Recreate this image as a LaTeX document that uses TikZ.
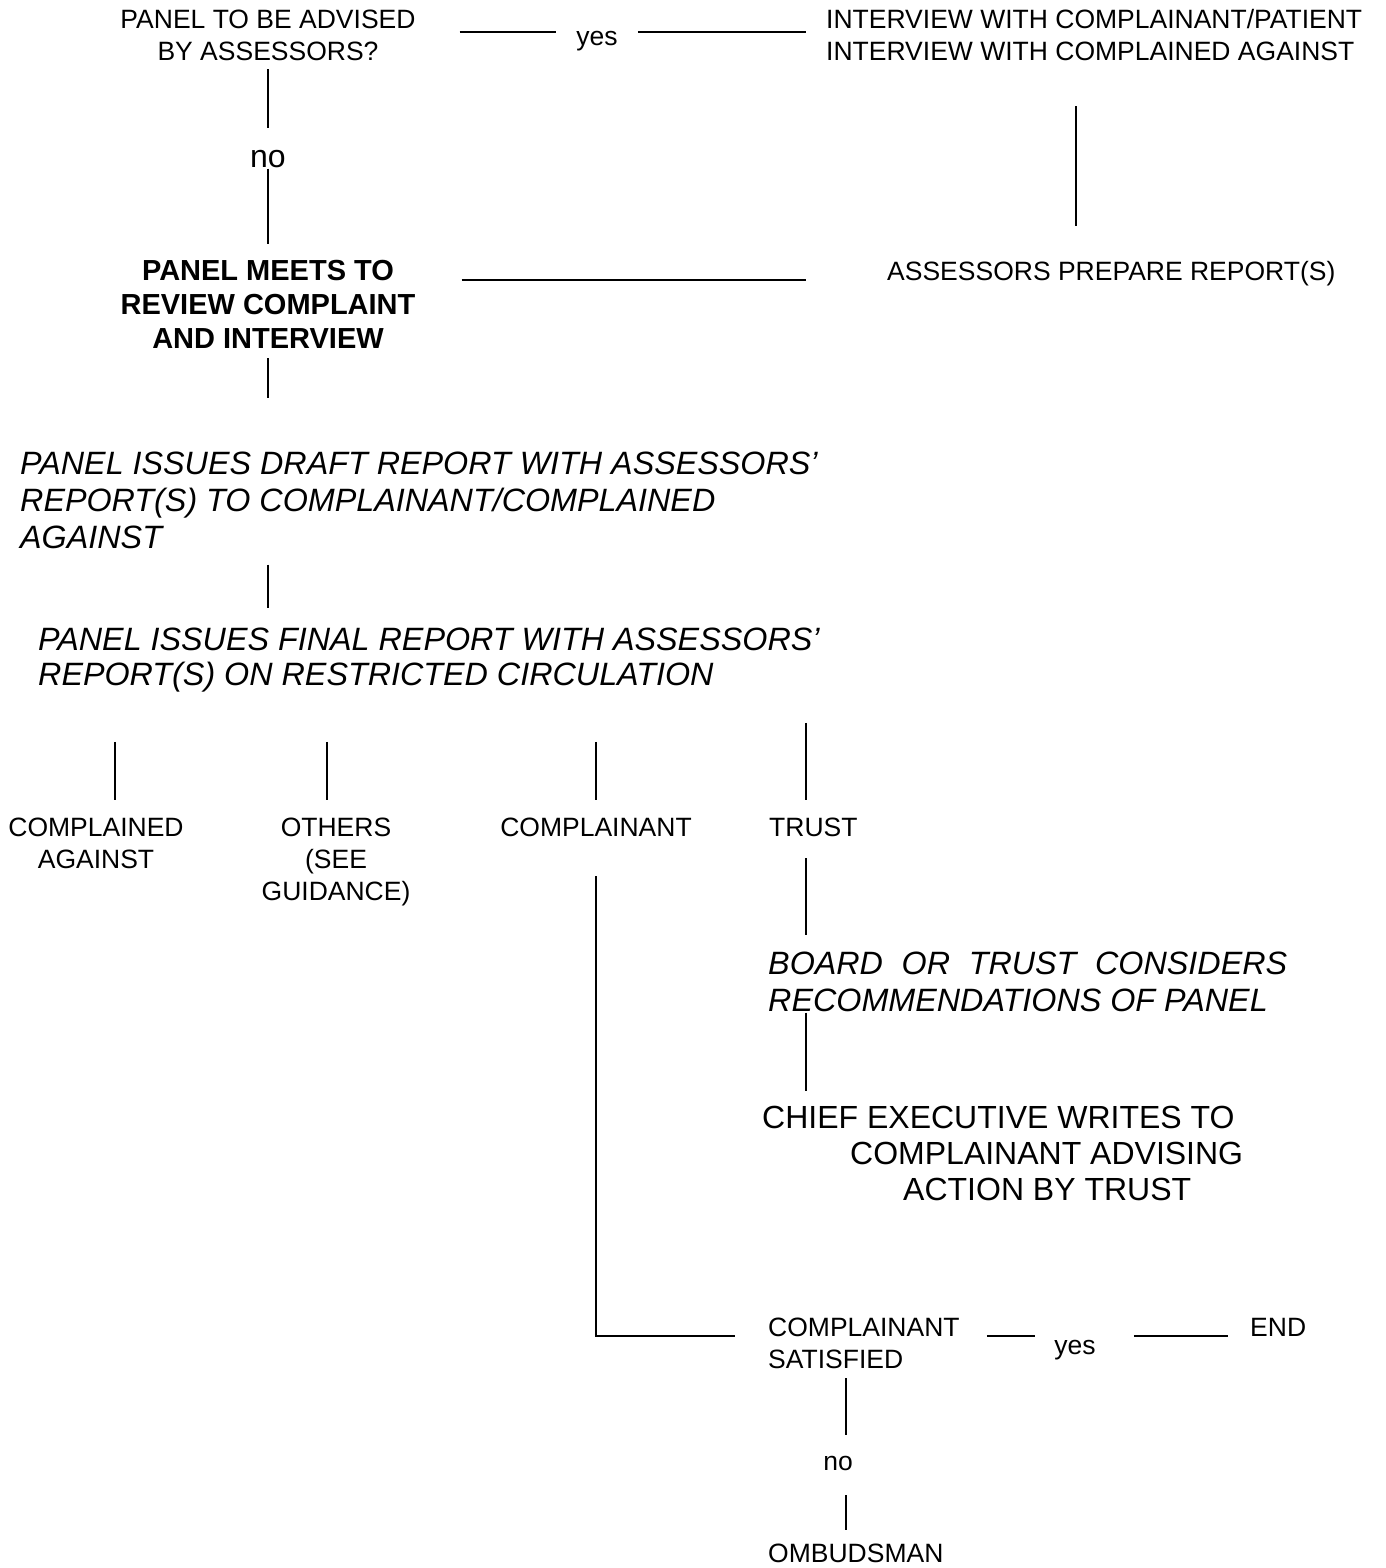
\documentclass[tikz,border=0pt]{standalone}
\usepackage{fontspec}
\setmainfont{Liberation Sans}

\tikzset{
    txt/.style={inner sep=0pt, font=\fontsize{26.5}{32}\selectfont},
    big/.style={inner sep=0pt, font=\fontsize{32}{36}\selectfont},
    ital/.style={inner sep=0pt, font=\fontsize{32.3}{37}\selectfont\itshape},
    head/.style={inner sep=0pt, font=\fontsize{29}{34}\selectfont\bfseries},
    link/.style={line width=1.5pt},
}

\begin{document}
\begin{tikzpicture}[x=1pt, y=-1pt]
    \useasboundingbox (0, 0) rectangle (1386, 1568);

    \node[txt, align=center, anchor=base](Q) at (268, 61) {PANEL TO BE ADVISED\\BY ASSESSORS?};
    \node[txt, anchor=base](Y1) at (597, 46) {yes};
    \node[txt, align=left, anchor=base west](IV) at (826, 61) {INTERVIEW WITH COMPLAINANT/PATIENT\\INTERVIEW WITH COMPLAINED AGAINST};
    \node[big, anchor=base](N1) at (268, 167) {no};
    \node[head, align=center, anchor=base](M) at (268, 348) {PANEL MEETS TO\\REVIEW COMPLAINT\\AND INTERVIEW};
    \node[txt, anchor=base west](AR) at (887, 280) {ASSESSORS PREPARE REPORT(S)};

    \node[ital, align=left, anchor=base west](D) at (20, 548) {PANEL ISSUES DRAFT REPORT WITH ASSESSORS'\\REPORT(S) TO COMPLAINANT/COMPLAINED\\AGAINST};
    \node[ital, align=left, anchor=base west, font=\fontsize{32.3}{35}\selectfont\itshape](F) at (38, 685) {PANEL ISSUES FINAL REPORT WITH ASSESSORS'\\REPORT(S) ON RESTRICTED CIRCULATION};

    \node[txt, align=center, anchor=base](CA) at (96, 868) {COMPLAINED\\AGAINST};
    \node[txt, align=center, anchor=base](O) at (336, 900) {OTHERS\\(SEE\\GUIDANCE)};
    \node[txt, anchor=base](CL) at (596, 836) {COMPLAINANT};
    \node[txt, anchor=base west](T) at (769, 836) {TRUST};

    \node[ital, align=left, anchor=base west](B) at (768, 1011) {\makebox[519pt][s]{BOARD OR TRUST CONSIDERS}\\RECOMMENDATIONS OF PANEL};
    \node[big, align=left, anchor=base west](CE) at (762, 1200) {CHIEF EXECUTIVE WRITES TO\\\hspace*{88pt}COMPLAINANT ADVISING\\\hspace*{141pt}ACTION BY TRUST};

    \node[txt, align=left, anchor=base west](S) at (768, 1368) {COMPLAINANT\\SATISFIED};
    \node[txt, anchor=base](Y2) at (1075, 1354) {yes};
    \node[txt, anchor=base west](E) at (1250, 1336) {END};
    \node[txt, anchor=base](N2) at (838, 1470) {no};
    \node[txt, anchor=base west](OM) at (768, 1562) {OMBUDSMAN};

    \coordinate(b1) at (115, 0);
    \coordinate(b2) at (327, 0);
    \coordinate(b3) at (806, 0);
    \coordinate(c1) at (1076, 0);
    \coordinate(c2) at (846, 0);

    % top part
    \draw[link, shorten <=44pt, shorten >=20pt] ([yshift=4pt]Q.east) -- ([yshift=4pt]Q.east -| Y1.west);
    \draw[link, shorten <=20pt, shorten >=20pt] ([yshift=4pt]Q.east -| Y1.east) -- ([yshift=4pt]Q.east -| IV.west);
    \draw[link, shorten <=8pt, shorten >=22pt] (Q.south) -- (N1.north);
    \draw[link, shorten <=1pt, shorten >=16pt] (N1.south) -- (M.north);
    \draw[link, shorten <=46pt, shorten >=81pt] (M.east |- AR.base west) -- (AR.base west);
    \draw[link, shorten <=45pt, shorten >=35pt] (c1 |- IV.south) -- (c1 |- AR.north);

    % reports
    \draw[link, shorten <=10pt, shorten >=53pt] (M.south) -- (M.south |- D.north);
    \draw[link, shorten <=16pt, shorten >=19pt] (M.south |- D.south) -- (M.south |- F.north);

    % circulation
    \draw[link, shorten <=50pt, shorten >=17pt] (b1 |- F.south) -- (b1 |- CA.north);
    \draw[link, shorten <=50pt, shorten >=17pt] (b2 |- F.south) -- (b2 |- O.north);
    \draw[link, shorten <=50pt, shorten >=17pt] (F.south -| CL.north) -- (CL.north);
    \draw[link, shorten <=31pt, shorten >=17pt] (b3 |- F.south) -- (b3 |- T.north);

    % trust
    \draw[link, shorten <=22pt, shorten >=16pt] (b3 |- T.south) -- (b3 |- B.north);
    \draw[link, shorten <=1pt, shorten >=14pt] (b3 |- B.south) -- (b3 |- CE.north);

    % complainant
    \draw[link, shorten <=40pt, shorten >=33pt] (CL.south) |- (S.west |- E.base);
    \draw[link, shorten <=27pt, shorten >=19pt] (S.east |- E.base) -- (Y2.west |- E.base);
    \draw[link, shorten <=38pt, shorten >=22pt] (Y2.east |- E.base) -- (E.base west);
    \draw[link, shorten <=10pt, shorten >=21pt] (c2 |- S.south) -- (c2 |- N2.north);
    \draw[link, shorten <=25pt, shorten >=13pt] (c2 |- N2.south) -- (c2 |- OM.north);
\end{tikzpicture}
\end{document}
